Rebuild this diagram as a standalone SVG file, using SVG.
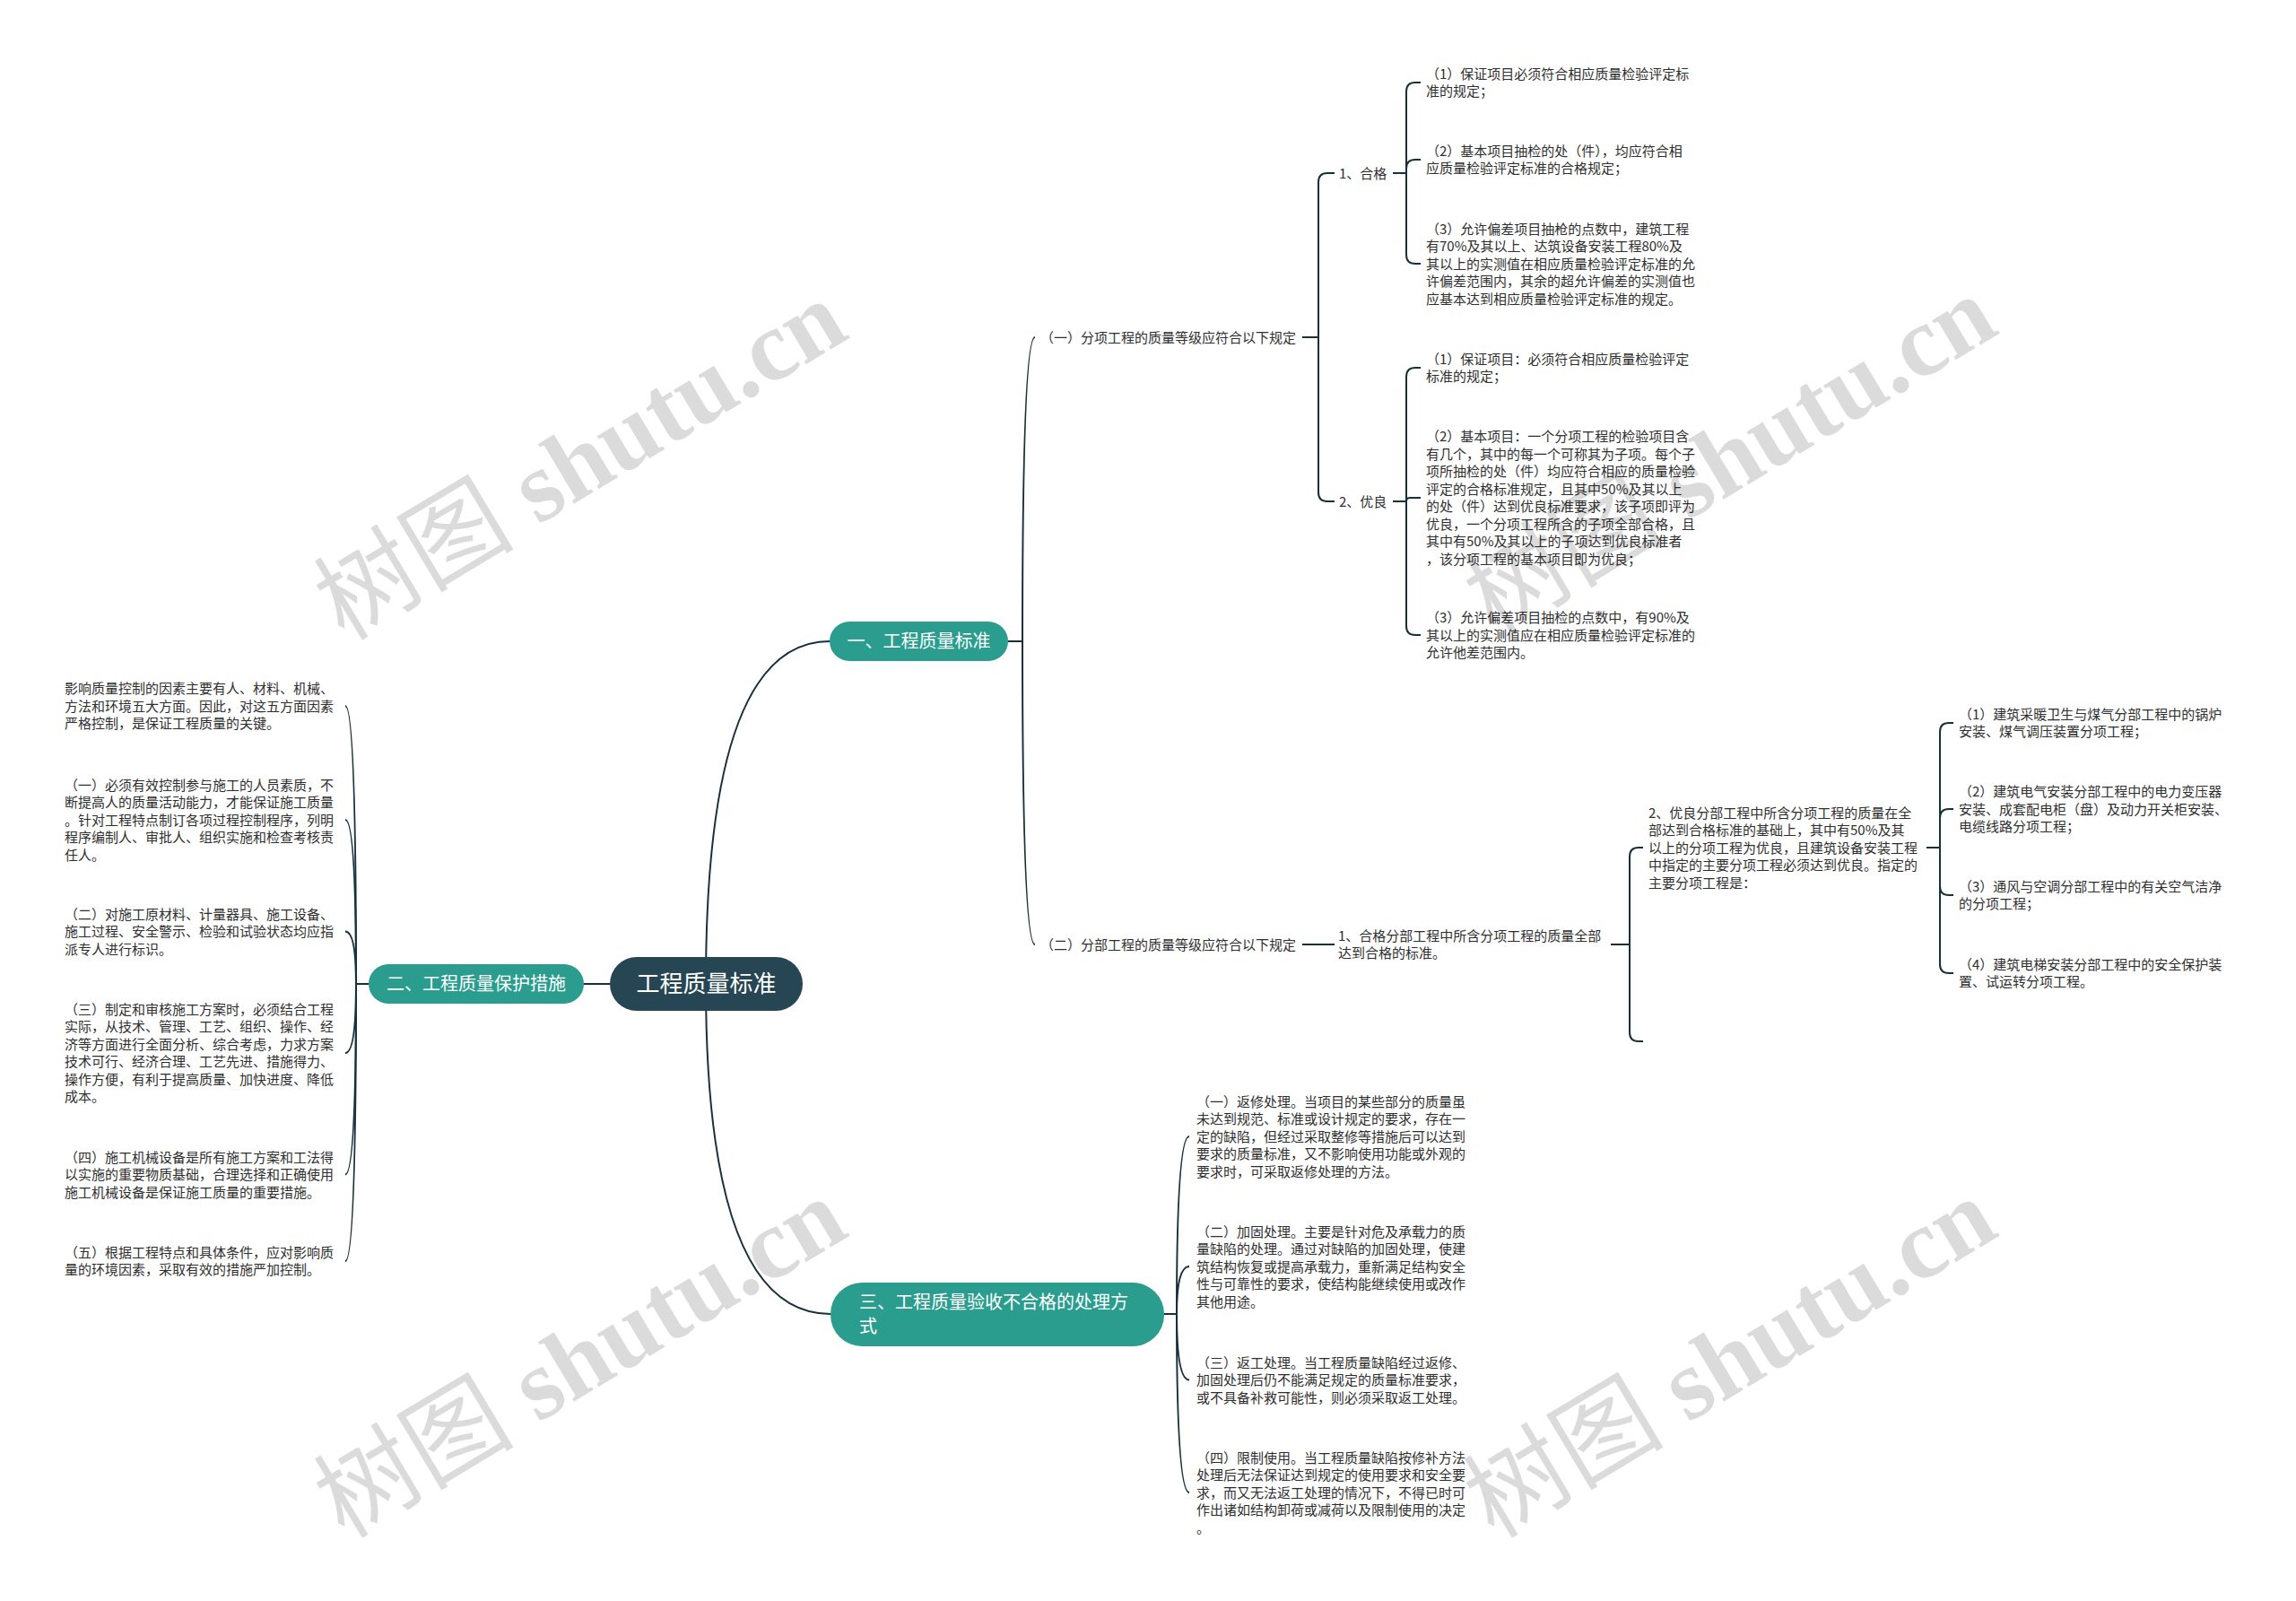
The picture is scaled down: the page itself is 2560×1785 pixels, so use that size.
<svg xmlns="http://www.w3.org/2000/svg" width="2560" height="1785" viewBox="0 0 2560 1785">
<style>
.t{font-family:"Noto Sans CJK SC","Noto Sans",sans-serif;font-size:15px;fill:#2e2e2e}
.n1{font-family:"Noto Sans CJK SC","Noto Sans",sans-serif;font-size:20px;fill:#fff}
.n0{font-family:"Noto Sans CJK SC","Noto Sans",sans-serif;font-size:26px;fill:#fff}
.c{fill:none;stroke:#17313c;stroke-width:2}
.b1{fill:#2a9d8f}
.b0{fill:#264653}
.wm{font-family:"Liberation Serif","Noto Sans CJK SC",serif;font-size:112px;font-weight:bold;fill:#000;fill-opacity:0.14}
.wc{font-weight:normal}
</style>
<rect width="2560" height="1785" fill="#fff"/>
<g id="connectors">
<path class="c" d="M 787 1097 Q 787 715 925 715"/>
<path class="c" d="M 787 1097 Q 787 1465 926 1465"/>
<path class="c" d="M 680 1097 H 651"/>
<path class="c" d="M 1124 715 H 1140 Q 1140 376 1154 376"/>
<path class="c" d="M 1124 715 H 1140 Q 1140 1053 1154 1053"/>
<path class="c" d="M 1452 376 H 1470 V 203 Q 1470 193 1480 193 H 1488"/>
<path class="c" d="M 1452 376 H 1470 V 549 Q 1470 559 1480 559 H 1488"/>
<path class="c" d="M 1553 193 H 1568 V 102 Q 1568 92 1578 92 H 1584"/>
<path class="c" d="M 1553 193 H 1568 V 188 Q 1568 178 1578 178 H 1584"/>
<path class="c" d="M 1553 193 H 1568 V 284 Q 1568 294 1578 294 H 1584"/>
<path class="c" d="M 1553 559 H 1568 V 420 Q 1568 410 1578 410 H 1584"/>
<path class="c" d="M 1553 559 H 1568 V 559 Q 1568 555 1572 555 H 1584"/>
<path class="c" d="M 1553 559 H 1568 V 698 Q 1568 708 1578 708 H 1584"/>
<path class="c" d="M 1452 1053 H 1488"/>
<path class="c" d="M 1796 1053 H 1817 V 955 Q 1817 945 1827 945 H 1832"/>
<path class="c" d="M 1796 1053 H 1817 V 1151 Q 1817 1161 1827 1161 H 1832"/>
<path class="c" d="M 2148 945 H 2163 V 816 Q 2163 806 2173 806 H 2178"/>
<path class="c" d="M 2148 945 H 2163 V 912 Q 2163 902 2173 902 H 2178"/>
<path class="c" d="M 2148 945 H 2163 V 988 Q 2163 998 2173 998 H 2178"/>
<path class="c" d="M 2148 945 H 2163 V 1075 Q 2163 1085 2173 1085 H 2178"/>
<path class="c" d="M 411 1097 H 397 Q 397 787 385 787"/>
<path class="c" d="M 411 1097 H 397 Q 397 914 385 914"/>
<path class="c" d="M 411 1097 H 397 Q 397 1038.5 385 1038.5"/>
<path class="c" d="M 411 1097 H 397 Q 397 1174 385 1174"/>
<path class="c" d="M 411 1097 H 397 Q 397 1309.5 385 1309.5"/>
<path class="c" d="M 411 1097 H 397 Q 397 1406 385 1406"/>
<path class="c" d="M 1298 1465 H 1312 Q 1312 1267 1326 1267"/>
<path class="c" d="M 1298 1465 H 1312 Q 1312 1412 1326 1412"/>
<path class="c" d="M 1298 1465 H 1312 Q 1312 1538.5 1326 1538.5"/>
<path class="c" d="M 1298 1465 H 1312 Q 1312 1664 1326 1664"/>
</g>
<g id="root"><rect class="b0" x="680" y="1067" width="215" height="60" rx="30"/><text class="n0" x="787.5" y="1106" text-anchor="middle">工程质量标准</text></g>
<g id="n1"><rect class="b1" x="925" y="693" width="199" height="44" rx="22"/><text class="n1" x="1024.5" y="722" text-anchor="middle">一、工程质量标准</text></g>
<g id="n2"><rect class="b1" x="411" y="1075" width="240" height="44" rx="22"/><text class="n1" x="531" y="1104" text-anchor="middle">二、工程质量保护措施</text></g>
<g id="n3"><rect class="b1" x="926" y="1430" width="372" height="71" rx="35"/><text class="n1"><tspan x="958" y="1459">三、工程质量验收不合格的处理方</tspan><tspan x="958" y="1486">式</tspan></text></g>
<g id="n1-1"><text class="t" x="1160" y="381.5">（一）分项工程的质量等级应符合以下规定</text></g>
<g id="n1-1-1"><text class="t" x="1493" y="198.5">1、合格</text></g>
<g id="n1-1-1-1"><text class="t"><tspan x="1590" y="87.75">（1）保证项目必须符合相应质量检验评定标</tspan><tspan x="1590" y="107.25">准的规定；</tspan></text></g>
<g id="n1-1-1-2"><text class="t"><tspan x="1590" y="173.75">（2）基本项目抽检的处（件），均应符合相</tspan><tspan x="1590" y="193.25">应质量检验评定标准的合格规定；</tspan></text></g>
<g id="n1-1-1-3"><text class="t"><tspan x="1590" y="260.5">（3）允许偏差项目抽枪的点数中，建筑工程</tspan><tspan x="1590" y="280">有70%及其以上、达筑设备安装工程80%及</tspan><tspan x="1590" y="299.5">其以上的实测值在相应质量检验评定标准的允</tspan><tspan x="1590" y="319">许偏差范围内，其余的超允许偏差的实测值也</tspan><tspan x="1590" y="338.5">应基本达到相应质量检验评定标准的规定。</tspan></text></g>
<g id="n1-1-2"><text class="t" x="1493" y="564.5">2、优良</text></g>
<g id="n1-1-2-1"><text class="t"><tspan x="1590" y="405.75">（1）保证项目：必须符合相应质量检验评定</tspan><tspan x="1590" y="425.25">标准的规定；</tspan></text></g>
<g id="n1-1-2-2"><text class="t"><tspan x="1590" y="492.25">（2）基本项目：一个分项工程的检验项目含</tspan><tspan x="1590" y="511.75">有几个，其中的每一个可称其为子项。每个子</tspan><tspan x="1590" y="531.25">项所抽检的处（件）均应符合相应的质量检验</tspan><tspan x="1590" y="550.75">评定的合格标准规定，且其中50%及其以上</tspan><tspan x="1590" y="570.25">的处（件）达到优良标准要求，该子项即评为</tspan><tspan x="1590" y="589.75">优良，一个分项工程所含的子项全部合格，且</tspan><tspan x="1590" y="609.25">其中有50%及其以上的子项达到优良标准者</tspan><tspan x="1590" y="628.75">，该分项工程的基本项目即为优良；</tspan></text></g>
<g id="n1-1-2-3"><text class="t"><tspan x="1590" y="694">（3）允许偏差项目抽检的点数中，有90%及</tspan><tspan x="1590" y="713.5">其以上的实测值应在相应质量检验评定标准的</tspan><tspan x="1590" y="733">允许他差范围内。</tspan></text></g>
<g id="n1-2"><text class="t" x="1160" y="1058.5">（二）分部工程的质量等级应符合以下规定</text></g>
<g id="n1-2-1"><text class="t"><tspan x="1492" y="1048.75">1、合格分部工程中所含分项工程的质量全部</tspan><tspan x="1492" y="1068.25">达到合格的标准。</tspan></text></g>
<g id="n1-2-1-1"><text class="t"><tspan x="1838" y="911.5">2、优良分部工程中所含分项工程的质量在全</tspan><tspan x="1838" y="931">部达到合格标准的基础上，其中有50%及其</tspan><tspan x="1838" y="950.5">以上的分项工程为优良，且建筑设备安装工程</tspan><tspan x="1838" y="970">中指定的主要分项工程必须达到优良。指定的</tspan><tspan x="1838" y="989.5">主要分项工程是：</tspan></text></g>
<g id="n1-2-1-1-1"><text class="t"><tspan x="2184" y="801.75">（1）建筑采暖卫生与煤气分部工程中的锅炉</tspan><tspan x="2184" y="821.25">安装、煤气调压装置分项工程；</tspan></text></g>
<g id="n1-2-1-1-2"><text class="t"><tspan x="2184" y="888">（2）建筑电气安装分部工程中的电力变压器</tspan><tspan x="2184" y="907.5">安装、成套配电柜（盘）及动力开关柜安装、</tspan><tspan x="2184" y="927">电缆线路分项工程；</tspan></text></g>
<g id="n1-2-1-1-3"><text class="t"><tspan x="2184" y="993.75">（3）通风与空调分部工程中的有关空气洁净</tspan><tspan x="2184" y="1013.25">的分项工程；</tspan></text></g>
<g id="n1-2-1-1-4"><text class="t"><tspan x="2184" y="1080.75">（4）建筑电梯安装分部工程中的安全保护装</tspan><tspan x="2184" y="1100.25">置、试运转分项工程。</tspan></text></g>
<g id="n2-1"><text class="t"><tspan x="72" y="773">影响质量控制的因素主要有人、材料、机械、</tspan><tspan x="72" y="792.5">方法和环境五大方面。因此，对这五方面因素</tspan><tspan x="72" y="812">严格控制，是保证工程质量的关键。</tspan></text></g>
<g id="n2-2"><text class="t"><tspan x="72" y="880.5">（一）必须有效控制参与施工的人员素质，不</tspan><tspan x="72" y="900">断提高人的质量活动能力，才能保证施工质量</tspan><tspan x="72" y="919.5">。针对工程特点制订各项过程控制程序，列明</tspan><tspan x="72" y="939">程序编制人、审批人、组织实施和检查考核责</tspan><tspan x="72" y="958.5">任人。</tspan></text></g>
<g id="n2-3"><text class="t"><tspan x="72" y="1024.5">（二）对施工原材料、计量器具、施工设备、</tspan><tspan x="72" y="1044">施工过程、安全警示、检验和试验状态均应指</tspan><tspan x="72" y="1063.5">派专人进行标识。</tspan></text></g>
<g id="n2-4"><text class="t"><tspan x="72" y="1130.75">（三）制定和审核施工方案时，必须结合工程</tspan><tspan x="72" y="1150.25">实际，从技术、管理、工艺、组织、操作、经</tspan><tspan x="72" y="1169.75">济等方面进行全面分析、综合考虑，力求方案</tspan><tspan x="72" y="1189.25">技术可行、经济合理、工艺先进、措施得力、</tspan><tspan x="72" y="1208.75">操作方便，有利于提高质量、加快进度、降低</tspan><tspan x="72" y="1228.25">成本。</tspan></text></g>
<g id="n2-5"><text class="t"><tspan x="72" y="1295.5">（四）施工机械设备是所有施工方案和工法得</tspan><tspan x="72" y="1315">以实施的重要物质基础，合理选择和正确使用</tspan><tspan x="72" y="1334.5">施工机械设备是保证施工质量的重要措施。</tspan></text></g>
<g id="n2-6"><text class="t"><tspan x="72" y="1401.75">（五）根据工程特点和具体条件，应对影响质</tspan><tspan x="72" y="1421.25">量的环境因素，采取有效的措施严加控制。</tspan></text></g>
<g id="n3-1"><text class="t"><tspan x="1334" y="1233.5">（一）返修处理。当项目的某些部分的质量虽</tspan><tspan x="1334" y="1253">未达到规范、标准或设计规定的要求，存在一</tspan><tspan x="1334" y="1272.5">定的缺陷，但经过采取整修等措施后可以达到</tspan><tspan x="1334" y="1292">要求的质量标准，又不影响使用功能或外观的</tspan><tspan x="1334" y="1311.5">要求时，可采取返修处理的方法。</tspan></text></g>
<g id="n3-2"><text class="t"><tspan x="1334" y="1378.5">（二）加固处理。主要是针对危及承载力的质</tspan><tspan x="1334" y="1398">量缺陷的处理。通过对缺陷的加固处理，使建</tspan><tspan x="1334" y="1417.5">筑结构恢复或提高承载力，重新满足结构安全</tspan><tspan x="1334" y="1437">性与可靠性的要求，使结构能继续使用或改作</tspan><tspan x="1334" y="1456.5">其他用途。</tspan></text></g>
<g id="n3-3"><text class="t"><tspan x="1334" y="1524.5">（三）返工处理。当工程质量缺陷经过返修、</tspan><tspan x="1334" y="1544">加固处理后仍不能满足规定的质量标准要求，</tspan><tspan x="1334" y="1563.5">或不具备补救可能性，则必须采取返工处理。</tspan></text></g>
<g id="n3-4"><text class="t"><tspan x="1334" y="1630.5">（四）限制使用。当工程质量缺陷按修补方法</tspan><tspan x="1334" y="1650">处理后无法保证达到规定的使用要求和安全要</tspan><tspan x="1334" y="1669.5">求，而又无法返工处理的情况下，不得已时可</tspan><tspan x="1334" y="1689">作出诸如结构卸荷或减荷以及限制使用的决定</tspan><tspan x="1334" y="1708.5">。</tspan></text></g>
<g id="watermarks">
<text class="wm" text-anchor="middle" transform="translate(647 513) rotate(-31)" y="38"><tspan class="wc">树图</tspan> shutu.cn</text>
<text class="wm" text-anchor="middle" transform="translate(1929 508) rotate(-31)" y="38"><tspan class="wc">树图</tspan> shutu.cn</text>
<text class="wm" text-anchor="middle" transform="translate(647 1514) rotate(-31)" y="38"><tspan class="wc">树图</tspan> shutu.cn</text>
<text class="wm" text-anchor="middle" transform="translate(1929 1514) rotate(-31)" y="38"><tspan class="wc">树图</tspan> shutu.cn</text>
</g>
</svg>
